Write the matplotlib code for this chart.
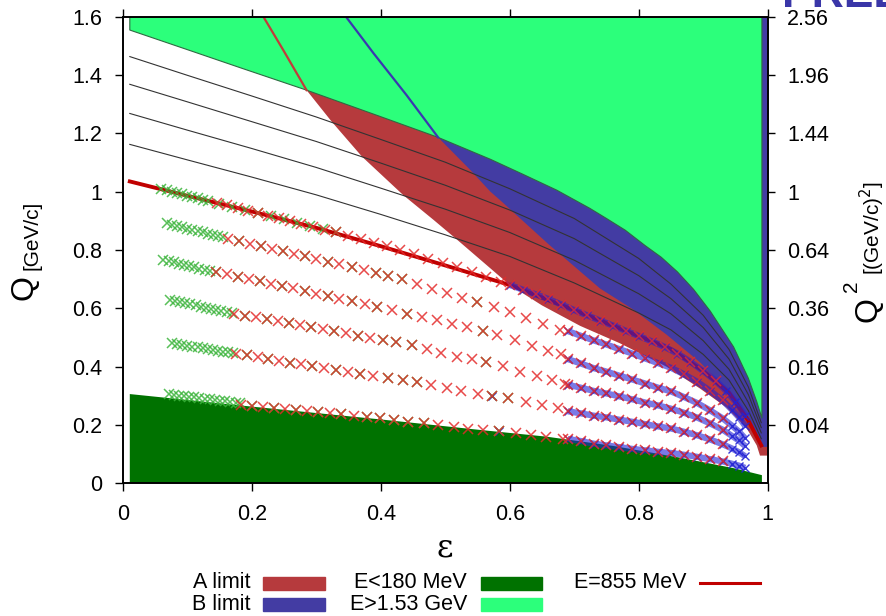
import matplotlib.pyplot as plt
from matplotlib.patches import Rectangle
from matplotlib.lines import Line2D

plt.rcParams['font.family'] = ['Liberation Sans', 'DejaVu Sans']

# spectrometer acceptance limits (epsilon, Q in GeV/c)
a_limit_eps = [0.218, 0.249, 0.285, 0.324, 0.371, 0.435, 0.482, 0.518, 0.6, 0.65,
               0.709, 0.771, 0.843, 0.895, 0.936, 0.967, 0.983, 0.988]
a_limit_q = [1.6, 1.485, 1.348, 1.24, 1.12, 0.988, 0.903, 0.836, 0.68, 0.61,
             0.54, 0.48, 0.40, 0.325, 0.26, 0.19, 0.13, 0.095]
b_limit_eps = [0.346, 0.389, 0.44, 0.489, 0.539, 0.57, 0.585, 0.66, 0.74, 0.792,
               0.843, 0.895, 0.936, 0.967, 0.988]
b_limit_q = [1.6, 1.474, 1.331, 1.186, 1.074, 1.0, 0.971, 0.82, 0.668, 0.595,
             0.51, 0.415, 0.322, 0.228, 0.125]

# beam energy bounds
e_high_eps = [0.011, 0.1, 0.182, 0.285, 0.4, 0.489, 0.57, 0.62, 0.673, 0.724, 0.75, 0.779,
              0.81, 0.835, 0.86, 0.885, 0.911, 0.947, 0.97, 0.983, 0.991]
e_high_q = [1.554, 1.487, 1.425, 1.348, 1.257, 1.186, 1.111, 1.06, 1.005, 0.943, 0.908, 0.868,
            0.815, 0.775, 0.725, 0.665, 0.59, 0.468, 0.36, 0.28, 0.223]
e_low_eps = [0.011, 0.2, 0.4, 0.554, 0.657, 0.761, 0.864, 0.947, 0.991]
e_low_q = [0.306, 0.263, 0.219, 0.183, 0.160, 0.128, 0.088, 0.052, 0.028]

# lines of constant beam energy
line_eps = [0.011, 0.1, 0.2, 0.3, 0.4, 0.5, 0.6, 0.7, 0.8, 0.85, 0.9, 0.94, 0.97, 0.99]
q_855 = [1.035, 0.986, 0.932, 0.876, 0.813, 0.747, 0.68, 0.594, 0.505, 0.46, 0.385, 0.31, 0.215, 0.13]
q_line1 = [1.162, 1.109, 1.050, 0.989, 0.922, 0.852, 0.778, 0.687, 0.584, 0.526, 0.442, 0.354, 0.249, 0.153]
q_line2 = [1.268, 1.211, 1.148, 1.083, 1.012, 0.940, 0.860, 0.765, 0.650, 0.581, 0.489, 0.391, 0.277, 0.173]
q_line3 = [1.368, 1.308, 1.240, 1.172, 1.098, 1.022, 0.937, 0.839, 0.712, 0.633, 0.534, 0.426, 0.304, 0.191]
q_line4 = [1.463, 1.399, 1.328, 1.256, 1.179, 1.101, 1.010, 0.908, 0.771, 0.683, 0.576, 0.459, 0.330, 0.208]

# measured settings: green, red and blue series per row
g1_eps = [0.060, 0.068, 0.076, 0.084, 0.092, 0.100, 0.108, 0.116, 0.124, 0.132,
          0.150, 0.170, 0.190, 0.210, 0.230, 0.250, 0.270, 0.290, 0.310, 0.330]
g1_q = [1.008, 1.004, 1.000, 0.995, 0.991, 0.986, 0.982, 0.978, 0.973, 0.969,
        0.959, 0.948, 0.937, 0.927, 0.916, 0.905, 0.894, 0.883, 0.872, 0.861]
r1_eps = [0.146, 0.162, 0.178, 0.194, 0.21, 0.226, 0.243, 0.26, 0.277, 0.295, 0.313, 0.331,
          0.35, 0.37, 0.39, 0.41, 0.43, 0.452, 0.474, 0.496, 0.518, 0.541, 0.564, 0.587]
r1_q = [0.961, 0.953, 0.944, 0.935, 0.927, 0.918, 0.909, 0.899, 0.890, 0.880, 0.870, 0.860,
        0.849, 0.837, 0.825, 0.812, 0.799, 0.785, 0.770, 0.755, 0.740, 0.724, 0.707, 0.690]
b1_eps = [0.60, 0.62, 0.64, 0.66, 0.68, 0.70, 0.72, 0.74, 0.76, 0.78,
          0.80, 0.82, 0.84, 0.86, 0.88, 0.90, 0.92, 0.935, 0.95, 0.965]
b1_q = [0.680, 0.664, 0.648, 0.632, 0.613, 0.594, 0.576, 0.558, 0.541, 0.523,
        0.505, 0.487, 0.468, 0.445, 0.417, 0.385, 0.350, 0.318, 0.280, 0.232]

g2_eps = [0.068, 0.076, 0.084, 0.092, 0.100, 0.108, 0.116, 0.124, 0.132, 0.140, 0.148, 0.156,
          0.18, 0.214, 0.248, 0.282, 0.318, 0.355, 0.393, 0.412, 0.433, 0.55]
g2_q = [0.891, 0.887, 0.882, 0.878, 0.873, 0.869, 0.865, 0.860, 0.856, 0.851, 0.847, 0.843,
        0.830, 0.813, 0.796, 0.778, 0.760, 0.741, 0.721, 0.711, 0.700, 0.623]
r2_eps = [0.163, 0.18, 0.197, 0.214, 0.231, 0.248, 0.265, 0.282, 0.30, 0.318, 0.336, 0.355, 0.374,
          0.393, 0.412, 0.433, 0.456, 0.48, 0.502, 0.526, 0.55, 0.575, 0.6, 0.626, 0.652, 0.678]
r2_q = [0.839, 0.830, 0.822, 0.813, 0.804, 0.796, 0.787, 0.778, 0.769, 0.760, 0.751, 0.741, 0.731,
        0.721, 0.711, 0.700, 0.683, 0.665, 0.651, 0.637, 0.623, 0.606, 0.588, 0.566, 0.545, 0.526]

g3_eps = [0.063, 0.071, 0.079, 0.087, 0.095, 0.103, 0.111, 0.119, 0.127, 0.135,
          0.145, 0.179, 0.213, 0.247, 0.282, 0.318, 0.355, 0.395, 0.44, 0.559]
g3_q = [0.766, 0.762, 0.758, 0.753, 0.749, 0.745, 0.741, 0.736, 0.732, 0.728,
        0.725, 0.709, 0.692, 0.676, 0.659, 0.642, 0.624, 0.605, 0.582, 0.522]
r3_eps = [0.145, 0.162, 0.179, 0.196, 0.213, 0.23, 0.247, 0.264, 0.282, 0.30, 0.318, 0.336, 0.355, 0.375,
          0.395, 0.417, 0.44, 0.464, 0.487, 0.51, 0.533, 0.559, 0.581, 0.608, 0.634, 0.66, 0.68]
r3_q = [0.725, 0.717, 0.709, 0.700, 0.692, 0.684, 0.676, 0.668, 0.659, 0.650, 0.642, 0.633, 0.624, 0.614,
        0.605, 0.594, 0.582, 0.571, 0.559, 0.546, 0.535, 0.522, 0.508, 0.490, 0.472, 0.455, 0.442]

g4_eps = [0.073, 0.081, 0.089, 0.097, 0.105, 0.113, 0.121, 0.129, 0.137, 0.145, 0.153, 0.161, 0.169,
          0.19, 0.224, 0.258, 0.292, 0.328, 0.365, 0.404, 0.424, 0.448, 0.564]
g4_q = [0.629, 0.625, 0.621, 0.617, 0.614, 0.610, 0.606, 0.602, 0.598, 0.595, 0.591, 0.587, 0.583,
        0.575, 0.562, 0.549, 0.535, 0.521, 0.506, 0.491, 0.483, 0.474, 0.417]
r4_eps = [0.173, 0.19, 0.207, 0.224, 0.241, 0.258, 0.275, 0.292, 0.31, 0.328, 0.346, 0.365, 0.384,
          0.404, 0.424, 0.448, 0.471, 0.494, 0.518, 0.541, 0.564, 0.589, 0.616, 0.642, 0.665, 0.686]
r4_q = [0.582, 0.575, 0.569, 0.562, 0.555, 0.549, 0.542, 0.535, 0.528, 0.521, 0.514, 0.506, 0.499,
        0.491, 0.483, 0.474, 0.461, 0.447, 0.434, 0.426, 0.417, 0.401, 0.383, 0.368, 0.354, 0.342]

g5_eps = [0.076, 0.084, 0.092, 0.100, 0.108, 0.116, 0.124, 0.132, 0.140, 0.148, 0.156, 0.164, 0.171,
          0.192, 0.226, 0.26, 0.294, 0.33, 0.368, 0.412, 0.434, 0.456, 0.572, 0.598]
g5_q = [0.480, 0.477, 0.474, 0.471, 0.469, 0.466, 0.463, 0.460, 0.457, 0.454, 0.451, 0.449, 0.446,
        0.439, 0.427, 0.414, 0.402, 0.389, 0.376, 0.36, 0.354, 0.348, 0.30, 0.292]
r5_eps = [0.175, 0.192, 0.209, 0.226, 0.243, 0.26, 0.277, 0.294, 0.312, 0.33, 0.349, 0.368, 0.388,
          0.412, 0.434, 0.456, 0.478, 0.502, 0.525, 0.551, 0.572, 0.598, 0.625, 0.65, 0.675]
r5_q = [0.445, 0.439, 0.433, 0.427, 0.421, 0.414, 0.408, 0.402, 0.396, 0.389, 0.382, 0.376, 0.368,
        0.36, 0.354, 0.348, 0.337, 0.326, 0.316, 0.306, 0.30, 0.292, 0.280, 0.268, 0.257]

g6_eps = [0.071, 0.079, 0.087, 0.095, 0.103, 0.111, 0.119, 0.127, 0.135, 0.143, 0.151, 0.159, 0.167,
          0.175, 0.182, 0.201, 0.235, 0.269, 0.303, 0.339, 0.378, 0.399, 0.42, 0.443, 0.467, 0.584]
g6_q = [0.306, 0.304, 0.301, 0.299, 0.297, 0.295, 0.292, 0.290, 0.288, 0.285, 0.283, 0.281, 0.279,
        0.276, 0.274, 0.266, 0.259, 0.251, 0.244, 0.236, 0.227, 0.223, 0.217, 0.211, 0.206, 0.179]
r6_eps = [0.184, 0.201, 0.218, 0.235, 0.252, 0.269, 0.286, 0.303, 0.321, 0.339, 0.358, 0.378, 0.399,
          0.42, 0.443, 0.467, 0.489, 0.513, 0.536, 0.559, 0.584, 0.609, 0.633, 0.657, 0.682]
r6_q = [0.270, 0.266, 0.263, 0.259, 0.255, 0.251, 0.248, 0.244, 0.240, 0.236, 0.232, 0.227, 0.223,
        0.217, 0.211, 0.206, 0.200, 0.193, 0.186, 0.183, 0.179, 0.172, 0.166, 0.159, 0.151]

# high-epsilon rows (blue)
blue_eps = [0.69, 0.71, 0.73, 0.75, 0.77, 0.79, 0.81, 0.83, 0.85, 0.87, 0.89, 0.91, 0.93, 0.945, 0.955, 0.965]
b2_q = [0.522, 0.506, 0.490, 0.476, 0.460, 0.445, 0.428, 0.412, 0.396, 0.374, 0.349, 0.318, 0.284, 0.251, 0.227, 0.197]
b3_q = [0.426, 0.411, 0.395, 0.383, 0.369, 0.356, 0.342, 0.328, 0.315, 0.296, 0.276, 0.251, 0.223, 0.197, 0.178, 0.154]
b4_q = [0.338, 0.328, 0.317, 0.308, 0.298, 0.288, 0.277, 0.267, 0.256, 0.242, 0.226, 0.206, 0.184, 0.162, 0.147, 0.128]
b5_q = [0.247, 0.240, 0.232, 0.226, 0.218, 0.211, 0.203, 0.195, 0.188, 0.177, 0.165, 0.151, 0.134, 0.119, 0.107, 0.093]
b6_q = [0.152, 0.145, 0.136, 0.130, 0.124, 0.118, 0.113, 0.108, 0.104, 0.098, 0.091, 0.083, 0.075, 0.067, 0.061, 0.053]
blue_single_eps = [0.572, 0.584]
blue_single_q = [0.30, 0.179]

right_ticks = [0.2, 0.4, 0.6, 0.8, 1.0, 1.2, 1.4, 1.6]
right_labels = ['0.04', '0.16', '0.36', '0.64', '1', '1.44', '1.96', '2.56']

RED_FILL = '#b63a3d'
BLUE_FILL = '#433ca3'
DARK_GREEN = '#007200'
LIGHT_GREEN = '#2cff7b'
LINE_855 = '#c00000'
MK_GREEN = '#3cb43c'
MK_RED = '#e42a2a'
MK_BLUE = '#2222d4'

fig = plt.figure(figsize=(8.86, 6.16), dpi=100)
ax = fig.add_axes([0.1385, 0.2154, 0.728, 0.7576])

# excluded regions
ax.fill(a_limit_eps + [1.0, 1.0], a_limit_q + [0.095, 1.6], color=RED_FILL, lw=0, zorder=1)
ax.fill(b_limit_eps + [1.0, 1.0], b_limit_q + [0.125, 1.6], color=BLUE_FILL, lw=0, zorder=2)
ax.fill(e_high_eps + [0.991, 0.011], e_high_q + [1.6, 1.6], facecolor=LIGHT_GREEN,
        edgecolor='#2f6a42', lw=0.8, zorder=3)
ax.fill(e_low_eps + [0.991, 0.011], e_low_q + [0.0, 0.0], color=DARK_GREEN, lw=0, zorder=3)

# constant beam energy lines
for q in [q_line1, q_line2, q_line3, q_line4]:
    ax.plot(line_eps, q, color='#333333', lw=0.8, zorder=4)
ax.plot(a_limit_eps[:3], a_limit_q[:3], color='#c23b3b', lw=1.6, zorder=5)
ax.plot(b_limit_eps[:4], b_limit_q[:4], color='#3b38b0', lw=1.6, zorder=5)
ax.plot(line_eps, q_855, color=LINE_855, lw=2.8, zorder=6)

# blue rows: dense bands of crosses
blue_rows = [(b1_eps, b1_q)] + [(blue_eps, q) for q in [b2_q, b3_q, b4_q, b5_q, b6_q]]
for e, q in blue_rows:
    ax.plot(e, q, color=MK_BLUE, lw=4.5, alpha=0.6, solid_capstyle='butt', zorder=7)
    ax.plot(e, q, 'x', color=MK_BLUE, ms=5.5, mew=1.0, alpha=0.9, zorder=7)
ax.plot(blue_single_eps, blue_single_q, 'x', color=MK_BLUE, ms=6, mew=1, zorder=8)

# green and red crosses
for e, q in [(g1_eps, g1_q), (g2_eps, g2_q), (g3_eps, g3_q),
             (g4_eps, g4_q), (g5_eps, g5_q), (g6_eps, g6_q)]:
    ax.plot(e, q, 'x', color=MK_GREEN, ms=7, mew=1.1, alpha=0.85, zorder=8)
for e, q in [(r1_eps, r1_q), (r2_eps, r2_q), (r3_eps, r3_q),
             (r4_eps, r4_q), (r5_eps, r5_q), (r6_eps, r6_q)]:
    ax.plot(e, q, 'x', color=MK_RED, ms=7, mew=1.1, alpha=0.85, zorder=9)
for e, q in blue_rows:
    ax.plot(e[:-3], q[:-3], 'x', color=MK_RED, ms=7, mew=1.1, alpha=0.85, zorder=9)

ax.set_xlim(0, 1)
ax.set_ylim(0, 1.6)
ax.set_xticks([0, 0.2, 0.4, 0.6, 0.8, 1.0])
ax.set_xticklabels(['0', '0.2', '0.4', '0.6', '0.8', '1'])
ax.set_yticks([0, 0.2, 0.4, 0.6, 0.8, 1.0, 1.2, 1.4, 1.6])
ax.set_yticklabels(['0', '0.2', '0.4', '0.6', '0.8', '1', '1.2', '1.4', '1.6'])
ax.tick_params(direction='out', length=6, width=1, labelsize=15.5, pad=9, top=True)
for s in ax.spines.values():
    s.set_linewidth(1.2)
    s.set_zorder(10)

ax2 = ax.twinx()
ax2.set_ylim(0, 1.6)
ax2.set_yticks(right_ticks)
ax2.set_yticklabels(right_labels)
ax2.tick_params(direction='out', length=5, width=1, labelsize=15.5, pad=9)
for s in ax2.spines.values():
    s.set_linewidth(1.2)

W, H = 886.0, 616.0
def fx(x):
    return x / W
def fy(y):
    return 1 - y / H

# axis titles
fig.text(fx(445), fy(548), 'ε', fontsize=23, family='DejaVu Serif', ha='center', va='center')
fig.text(fx(25), fy(288), 'Q', fontsize=23, rotation=90, ha='center', va='center')
fig.text(fx(32), fy(235), '[GeV/c]', fontsize=15, rotation=90, ha='center', va='center')
fig.text(fx(868), fy(310), 'Q', fontsize=23, rotation=90, ha='center', va='center')
fig.text(fx(851), fy(286), '2', fontsize=15, rotation=90, ha='center', va='center')
fig.text(fx(872), fy(228), '[(GeV/c)$^2$]', fontsize=15, rotation=90, ha='center', va='center')

# legend below the plot
rows_y = [583, 604]
legend_items = [
    ('A limit', 250, 263, 325, 0, RED_FILL, 'patch'),
    ('B limit', 250, 263, 325, 1, BLUE_FILL, 'patch'),
    ('E<180 MeV', 467, 481, 542, 0, DARK_GREEN, 'patch'),
    ('E>1.53 GeV', 467, 481, 542, 1, LIGHT_GREEN, 'patch'),
    ('E=855 MeV', 687, 700, 760, 0, LINE_855, 'line'),
]
for label, tx, x0, x1, r, col, kind in legend_items:
    y = rows_y[r]
    fig.text(fx(tx), fy(y), label, fontsize=15.5, ha='right', va='center')
    if kind == 'patch':
        fig.patches.append(Rectangle((fx(x0), fy(y + 6.5)), (x1 - x0) / W, 13 / H,
                                     transform=fig.transFigure, color=col))
    else:
        fig.lines.append(Line2D([fx(x0), fx(x1)], [fy(y), fy(y)], transform=fig.transFigure,
                                color=col, lw=2.2))

fig.text(fx(782), fy(7), 'PRELIMINARY', fontsize=32, fontweight='bold', color='#3a36a8',
         ha='left', va='baseline')

fig.savefig('out.png', dpi=100)
